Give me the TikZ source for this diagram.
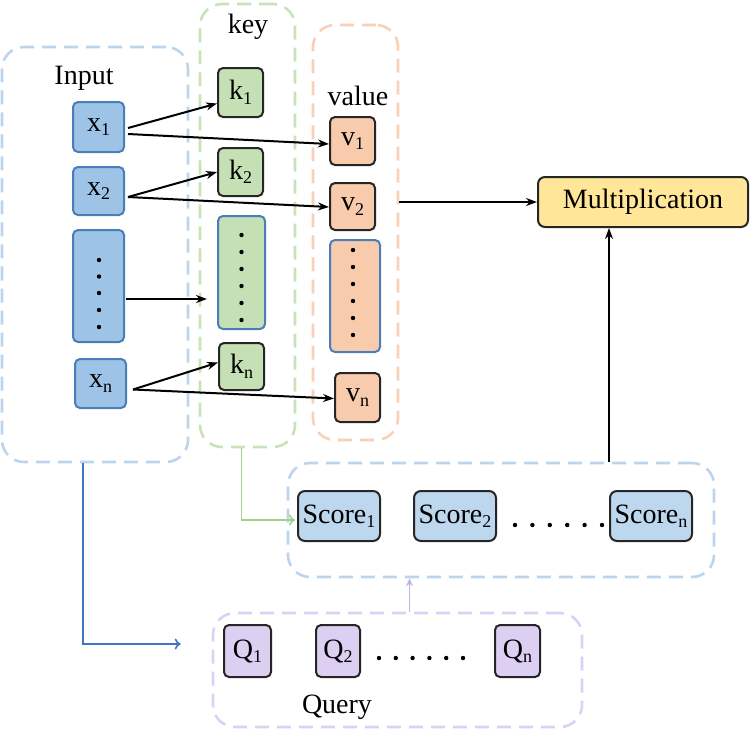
\documentclass[tikz,border=0pt]{standalone}
\usepackage{fontspec}
\setmainfont{Liberation Serif}
\usetikzlibrary{calc,arrows.meta}
\definecolor{xfill}{HTML}{9DC3E6}
\definecolor{xborder}{HTML}{4A7EBB}
\definecolor{sfill}{HTML}{BDD7EE}
\definecolor{kfill}{HTML}{C5E0B4}
\definecolor{vfill}{HTML}{F8CBAD}
\definecolor{qfill}{HTML}{DCCFF2}
\definecolor{mfill}{HTML}{FFE699}
\definecolor{cblue}{HTML}{BCD4EC}
\definecolor{cgreen}{HTML}{C9E3B9}
\definecolor{corange}{HTML}{FAD0B6}
\definecolor{cpurple}{HTML}{DED0F5}
\definecolor{agreen}{HTML}{A2D08A}
\definecolor{ablue}{HTML}{4472C4}
\definecolor{apurple}{HTML}{C4B2EC}
\definecolor{boxline}{HTML}{262626}
\newcommand\lowsub[1]{\raisebox{-0.35ex}{\fontsize{18}{18}\selectfont #1}}
\begin{document}
\begin{tikzpicture}[x=1pt,y=-1pt,font=\fontsize{28}{32}\selectfont,
  cont/.style={draw, dash pattern=on 14pt off 8pt, line width=2.6pt, rounded corners=22pt, inner sep=0pt},
  box/.style={draw=boxline, rounded corners=5pt, line width=2pt, inner sep=0pt},
  xbox/.style={box, draw=xborder, fill=xfill},
  kbox/.style={box, fill=kfill},
  vbox/.style={box, fill=vfill},
  sbox/.style={box, fill=sfill},
  qbox/.style={box, fill=qfill},
  arr/.style={-{Stealth[length=11pt,width=8pt]}, line width=2pt}
]
\useasboundingbox (0,0) rectangle (750,729);

% containers
\node[cont, draw=cblue, minimum width=186pt, minimum height=415pt] (inbox) at (95,254.5) {};
\node[cont, draw=cgreen, minimum width=95pt, minimum height=443pt] (keybox) at (247.5,225.5) {};
\node[cont, draw=corange, minimum width=85pt, minimum height=415pt] (valbox) at (355.5,232.5) {};
\node[cont, draw=cblue, minimum width=426pt, minimum height=114pt] (scorebox) at (501,520) {};
\node[cont, draw=cpurple, minimum width=369pt, minimum height=114pt] (querybox) at (397.5,670) {};

% titles
\node (tin) at (84,78) {Input};
\node (tkey) at (248,27) {key};
\node (tval) at (358,96) {value};
\node (tq) at (337,707) {Query};

% input boxes
\node[xbox, minimum width=51pt, minimum height=50pt] (x1) at (98.5,127) {x\lowsub{1}};
\node[xbox, minimum width=51pt, minimum height=48pt] (x2) at (98.5,191) {x\lowsub{2}};
\node[xbox, minimum width=51pt, minimum height=112pt] (xd) at (98.5,286) {};
\node[xbox, minimum width=51pt, minimum height=49pt] (xn) at (100.5,383.5) {x\lowsub{n}};
\foreach \y in {260,276.5,293,310,327} \fill (99,\y) circle (2.2pt);

% key boxes
\node[kbox, minimum width=45pt, minimum height=49pt] (k1) at (240.5,92.5) {k\lowsub{1}};
\node[kbox, minimum width=45pt, minimum height=48pt] (k2) at (240.5,172) {k\lowsub{2}};
\node[kbox, draw=xborder, minimum width=47pt, minimum height=113pt] (kd) at (241.5,272.5) {};
\node[kbox, minimum width=45pt, minimum height=47pt] (kn) at (241.5,366.5) {k\lowsub{n}};
\foreach \y in {235,252,269,286,303,320} \fill (241.5,\y) circle (2.2pt);

% value boxes
\node[vbox, minimum width=45pt, minimum height=48pt] (v1) at (352.5,141) {v\lowsub{1}};
\node[vbox, minimum width=45pt, minimum height=47pt] (v2) at (352.5,206.5) {v\lowsub{2}};
\node[vbox, draw=xborder, minimum width=50pt, minimum height=112pt] (vd) at (355,296) {};
\node[vbox, minimum width=45pt, minimum height=49pt] (vn) at (357.5,397.5) {v\lowsub{n}};
\foreach \y in {250,267,284,301,318,335} \fill (353,\y) circle (2.2pt);

% multiplication
\node[box, fill=mfill, rounded corners=7pt, minimum width=210pt, minimum height=50pt] (mult) at (643,202) {Multiplication};

% scores
\node[sbox, rounded corners=7pt, minimum width=82pt, minimum height=50pt] (s1) at (339,516) {Score\lowsub{1}};
\node[sbox, rounded corners=7pt, minimum width=82pt, minimum height=50pt] (s2) at (455,516) {Score\lowsub{2}};
\node[sbox, rounded corners=7pt, minimum width=82pt, minimum height=50pt] (sn) at (651,516) {Score\lowsub{n}};
\foreach \i in {0,...,5} \fill (515+\i*17.4,525) circle (2.2pt);

% queries
\node[qbox, minimum width=47pt, minimum height=52pt] (q1) at (247.5,651) {Q\lowsub{1}};
\node[qbox, minimum width=44pt, minimum height=52pt] (q2) at (338,651) {Q\lowsub{2}};
\node[qbox, minimum width=45pt, minimum height=52pt] (qn) at (517.5,651) {Q\lowsub{n}};
\foreach \i in {0,...,5} \fill (379+\i*16.8,658) circle (2.2pt);

% arrows input -> key/value
\draw[arr] ($(x1.east)+(3,1)$) -- ($(k1.west)+(0,11)$);
\draw[arr] ($(x1.east)+(3,7)$) -- ($(v1.west)+(0,3)$);
\draw[arr] ($(x2.east)+(3,6)$) -- ($(k2.west)+(0,0)$);
\draw[arr] ($(x2.east)+(3,6)$) -- ($(v2.west)+(0,0.5)$);
\draw[arr] ($(xd.east)+(1,13)$) -- ($(kd.west)+(-10,26.5)$);
\draw[arr] ($(xn.east)+(6,6)$) -- ($(kn.west)+(0,-4)$);
\draw[arr] ($(xn.east)+(6,6)$) -- ($(vn.west)+(0,1)$);

% to multiplication
\draw[arr] (valbox.east |- mult.west) -- (mult.west);
\draw[arr] (sn.west |- scorebox.north) -- (sn.west |- mult.south);

% green key -> score
\draw[agreen, line width=1.6pt, -{To[length=6pt,width=11pt]}] (kd.south |- keybox.south) |- ($(s1.west)+(-2,4)$);
% purple query -> score
\coordinate (pq) at ($(querybox.north)+(12,0)$);
\draw[apurple, line width=1.6pt, -{Stealth[length=8pt,width=7pt]}] (pq) -- (pq |- scorebox.south);
% blue input -> query
\draw[ablue, line width=1.6pt, -{To[length=6pt,width=11pt]}] ($(inbox.south)+(-12,0)$) |- ($(querybox.west)+(-31,-26)$);
\end{tikzpicture}
\end{document}
